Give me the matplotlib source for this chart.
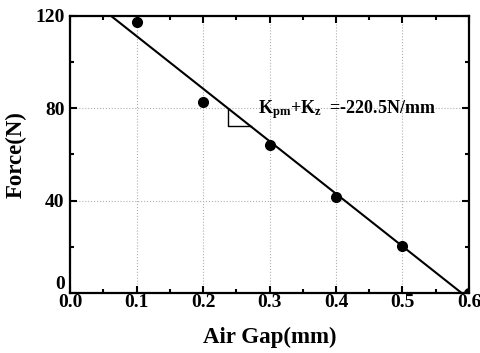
import numpy as np
import matplotlib
matplotlib.use("Agg")
import matplotlib.pyplot as plt

# measured points
air_gap = [0.1, 0.2, 0.3, 0.4, 0.5, 0.6]
force = [117.4, 82.7, 64.1, 41.6, 20.4, 0.0]

x_ticks = [0.0, 0.1, 0.2, 0.3, 0.4, 0.5, 0.6]
y_ticks = [0, 40, 80, 120]

plt.rcParams['font.family'] = ['Liberation Serif', 'DejaVu Serif']
plt.rcParams['font.weight'] = 'bold'
plt.rcParams['mathtext.fontset'] = 'custom'
plt.rcParams['mathtext.rm'] = 'Liberation Serif:bold'
plt.rcParams['mathtext.bf'] = 'Liberation Serif:bold'
plt.rcParams['mathtext.it'] = 'Liberation Serif:bold'

fig = plt.figure(figsize=(4.8, 3.53), dpi=100)
ax = fig.add_axes([0.146, 0.170, 0.831, 0.785])

ax.grid(True, color='#b0b0b0', linestyle=':', linewidth=0.8)
ax.set_axisbelow(True)

# linear fit through the points
slope, intercept = np.polyfit(air_gap, force, 1)
xl = np.array([0.0, 0.6])
ax.plot(xl, intercept + slope * xl, color='black', linewidth=1.5)
ax.plot(air_gap, force, 'o', color='black', markersize=7)

# slope triangle
tx0, tx1 = 0.238, 0.272
ty_top = intercept + slope * tx0
ty_bot = intercept + slope * tx1
ax.plot([tx0, tx0, tx1], [ty_top, ty_bot, ty_bot], color='black', linewidth=1.0)
ax.text(0.283, 79.5, r'$\mathrm{K_{pm}{+}K_{z}}$  =-220.5N/mm', fontsize=13,
        fontweight='bold', va='center', ha='left')

ax.set_xlim(0, 0.6)
ax.set_ylim(0, 120)
ax.set_xticks(x_ticks)
ax.set_yticks(y_ticks)
ax.set_xticks(np.arange(0.05, 0.6, 0.1), minor=True)
ax.set_yticks([20, 60, 100], minor=True)
ax.tick_params(which='both', direction='in', top=True, right=True, width=1.5)
ax.tick_params(which='major', length=5, labelsize=14)
ax.tick_params(axis='x', which='major', pad=1)
ax.tick_params(axis='y', which='major', pad=4)
ax.tick_params(which='minor', length=3)
for s in ax.spines.values():
    s.set_linewidth(1.6)

# the "0" on the y axis sits just above the corner
ax.get_yticklabels()[0].set_va('bottom')

ax.set_xlabel('Air Gap(mm)', fontsize=16.5, fontweight='bold', labelpad=11)
ax.set_ylabel('Force(N)', fontsize=16.5, fontweight='bold', labelpad=6)

fig.savefig('out.png', dpi=100)
